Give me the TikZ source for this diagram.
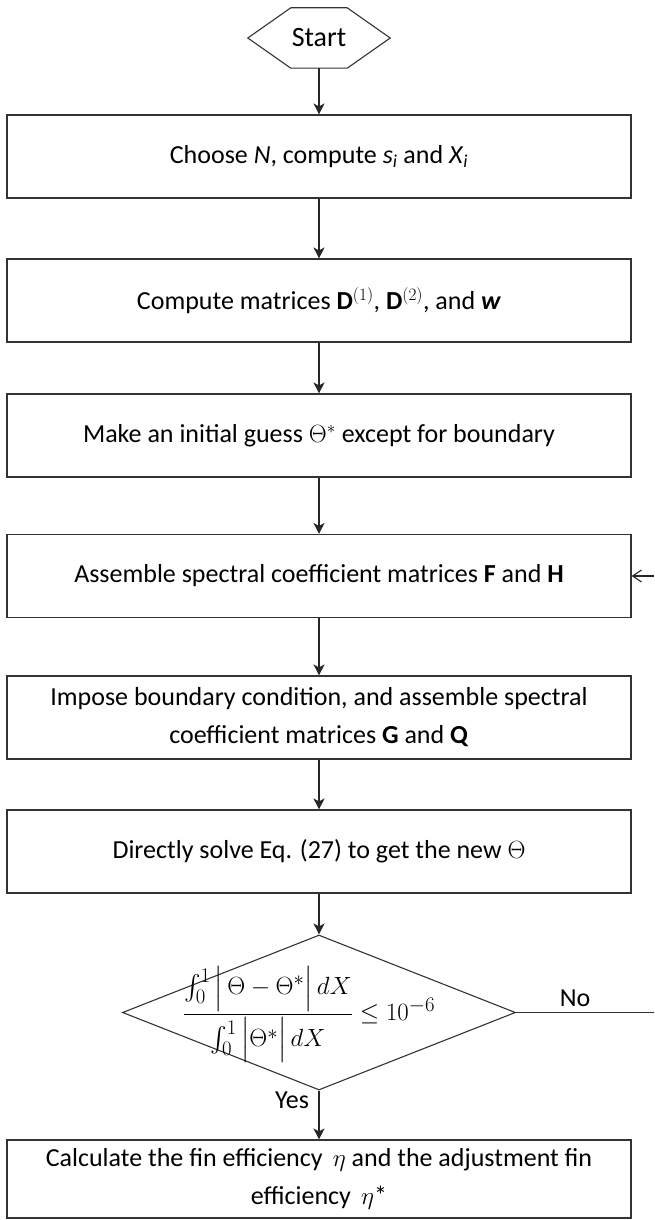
\documentclass[tikz,border=0pt]{standalone}
\usepackage{amsmath}
\usepackage{fontspec}
\setmainfont{Carlito}
\usetikzlibrary{shapes.geometric,arrows.meta,calc}
\tikzset{
  stepbox/.style={draw=black!80, line width=1.1pt, minimum width=624pt, minimum height=83pt, inner sep=0pt, align=center, font=\fontsize{26}{38}\selectfont},
  flow/.style={draw=black!85, line width=1.2pt, -{Stealth[length=11pt,width=11pt,inset=3pt]}},
  lbl/.style={font=\fontsize{26}{30}\selectfont, inner sep=0pt}
}
\begin{document}
\begin{tikzpicture}[x=1pt,y=-1pt]
\useasboundingbox (0,0) rectangle (654,1220);
\node[minimum width=142pt, minimum height=60pt, inner sep=0pt, font=\fontsize{28}{30}\selectfont] (start) at (319,38) {Start};
\draw[draw=black!80, line width=1.1pt] (start.west) -- ([xshift=43pt]start.north west) -- ([xshift=-43pt]start.north east) -- (start.east) -- ([xshift=-43pt]start.south east) -- ([xshift=43pt]start.south west) -- cycle;

\node[stepbox] (b1) at (319,156.5) {Choose \textit{N}, compute \textit{s}\textsubscript{\textit{i}} and \textit{X}\textsubscript{\textit{i}}};
\node[stepbox] (b2) at (319,300.5) {Compute matrices $\mathbf{D}^{(1)}$, $\mathbf{D}^{(2)}$, and \textbf{\textit{w}}};
\node[stepbox] (b3) at (319,435.5) {Make an initial guess $\Theta^{*}$ except for boundary};
\node[stepbox] (b4) at (319,576) {Assemble spectral coefficient matrices \textbf{F} and \textbf{H}};
\node[stepbox] (b5) at (319,717.5) {Impose boundary condition, and assemble spectral\\coefficient matrices \textbf{G} and \textbf{Q}};
\node[stepbox] (b6) at (319,851.5) {Directly solve Eq. (27) to get the new $\Theta$};
\node[draw=black!80, line width=1.1pt, diamond, minimum width=393pt, minimum height=155pt, inner sep=0pt] (d) at (319,1012.5) {};
\node[inner sep=0pt, font=\fontsize{30}{36}\selectfont] (f) at ([xshift=-10pt,yshift=-2pt]d.center) {$\dfrac{\int_0^1\,\Bigl|\,\Theta-\Theta^{*}\Bigr|\,dX}{\int_0^1\,\Bigl|\Theta^{*}\Bigr|\,dX}\le 10^{-6}$};
\node[stepbox, minimum height=78pt] (b7) at (319,1179) {Calculate the fin efficiency \,$\eta$ and the adjustment fin\\efficiency \,$\eta$*};

\draw[flow] (start.south) -- (b1.north);
\draw[flow] (b1.south) -- (b2.north);
\draw[flow] (b2.south) -- (b3.north);
\draw[flow] (b3.south) -- (b4.north);
\draw[flow] (b4.south) -- (b5.north);
\draw[flow] (b5.south) -- (b6.north);
\draw[flow] (b6.south) -- (d.north);
\draw[flow] (d.south) -- (b7.north);

\coordinate (noend) at (654,1012.5);
\coordinate (backin) at (654,576);
\draw[draw=black!80, line width=1.1pt] (d.east) -- (noend);
\draw[draw=black!85, line width=1.1pt, -{Straight Barb[length=9pt,width=12pt]}] (backin) -- (b4.east);
\node[lbl] (no) at (575,998) {No};
\node[lbl] (yes) at (292,1100) {Yes};
\end{tikzpicture}
\end{document}
